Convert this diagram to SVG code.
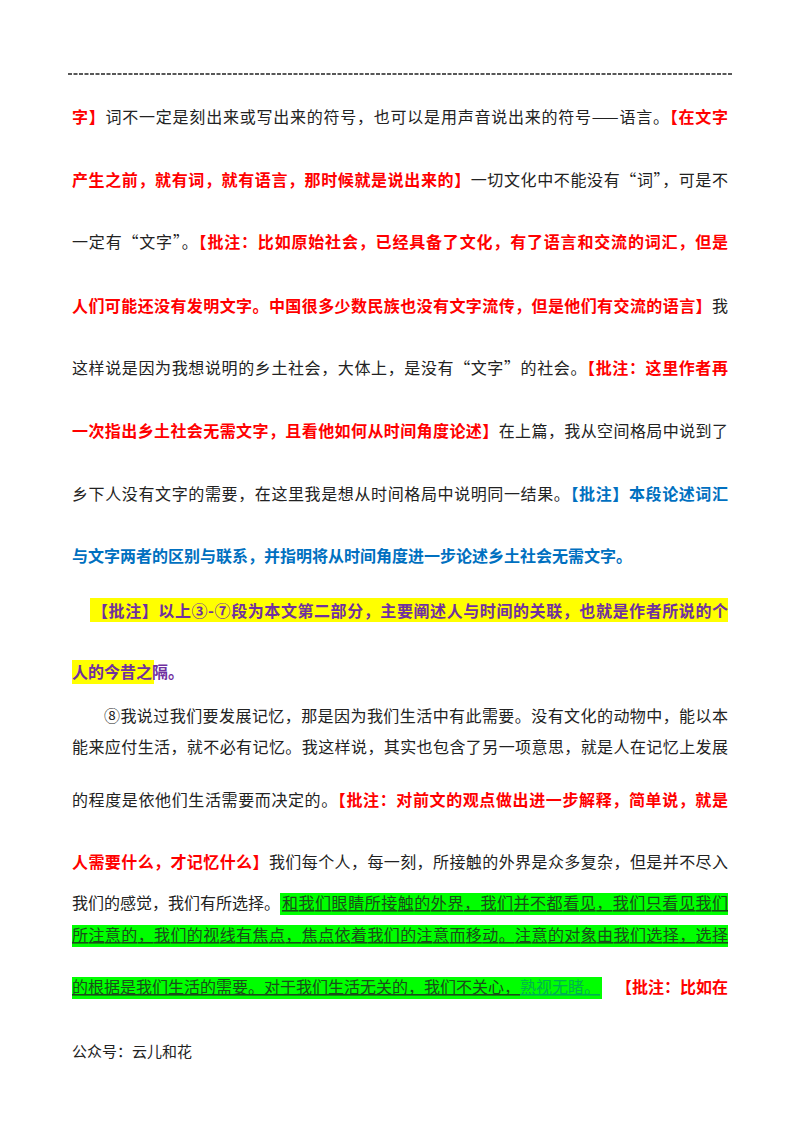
<svg xmlns="http://www.w3.org/2000/svg" width="800" height="1132" viewBox="0 0 800 1132">
<style>
text{font-family:"Noto Sans CJK SC","Noto Sans",sans-serif;font-size:16px;fill:#222}
.r{fill:#ff0000;font-weight:bold}
.b{fill:#0070c0;font-weight:bold}
.p{fill:#7030a0;font-weight:bold}
.g{fill:#1a4d1a;text-decoration:underline}
.lg{fill:#00b050;text-decoration:underline}
</style>
<rect width="800" height="1132" fill="#fff"/>
<line x1="68" y1="74" x2="733" y2="74" stroke="#222" stroke-width="1.4" stroke-dasharray="4,1.5"/>
<rect x="90" y="598" width="638" height="24" fill="#ffff00"/>
<rect x="72" y="660" width="82" height="24" fill="#ffff00"/>
<rect x="280" y="893" width="448" height="22" fill="#00ff00"/>
<rect x="72" y="925" width="656" height="22" fill="#00ff00"/>
<rect x="72" y="977" width="530" height="22" fill="#00ff00"/>
<text x="72" y="123" textLength="656" lengthAdjust="spacing"><tspan class="r">字】</tspan>词不一定是刻出来或写出来的符号，也可以是用声音说出来的符号——语言。<tspan class="r">【在文字</tspan></text>
<text x="72" y="186" textLength="656" lengthAdjust="spacing"><tspan class="r">产生之前，就有词，就有语言，那时候就是说出来的】</tspan>一切文化中不能没有“词”，可是不</text>
<text x="72" y="248" textLength="656" lengthAdjust="spacing">一定有“文字”。<tspan class="r">【批注：比如原始社会，已经具备了文化，有了语言和交流的词汇，但是</tspan></text>
<text x="72" y="312" textLength="656" lengthAdjust="spacing"><tspan class="r">人们可能还没有发明文字。中国很多少数民族也没有文字流传，但是他们有交流的语言】</tspan>我</text>
<text x="72" y="374" textLength="656" lengthAdjust="spacing">这样说是因为我想说明的乡土社会，大体上，是没有“文字”的社会。<tspan class="r">【批注：这里作者再</tspan></text>
<text x="72" y="437" textLength="656" lengthAdjust="spacing"><tspan class="r">一次指出乡土社会无需文字，且看他如何从时间角度论述】</tspan>在上篇，我从空间格局中说到了</text>
<text x="72" y="500" textLength="656" lengthAdjust="spacing">乡下人没有文字的需要，在这里我是想从时间格局中说明同一结果。<tspan class="b">【批注】本段论述词汇</tspan></text>
<text x="72" y="562" class="b">与文字两者的区别与联系，并指明将从时间角度进一步论述乡土社会无需文字。</text>
<text x="92" y="617" class="p" textLength="636" lengthAdjust="spacing">【批注】以上③-⑦段为本文第二部分，主要阐述人与时间的关联，也就是作者所说的个</text>
<text x="72" y="678" class="p">人的今昔之隔。</text>
<text x="104" y="722" textLength="624" lengthAdjust="spacing">⑧我说过我们要发展记忆，那是因为我们生活中有此需要。没有文化的动物中，能以本</text>
<text x="72" y="753" textLength="656" lengthAdjust="spacing">能来应付生活，就不必有记忆。我这样说，其实也包含了另一项意思，就是人在记忆上发展</text>
<text x="72" y="806" textLength="656" lengthAdjust="spacing">的程度是依他们生活需要而决定的。<tspan class="r">【批注：对前文的观点做出进一步解释，简单说，就是</tspan></text>
<text x="72" y="868" textLength="656" lengthAdjust="spacing"><tspan class="r">人需要什么，才记忆什么】</tspan>我们每个人，每一刻，所接触的外界是众多复杂，但是并不尽入</text>
<text x="72" y="909">我们的感觉，我们有所选择。</text>
<text x="282" y="909" textLength="446" lengthAdjust="spacing" class="g">和我们眼睛所接触的外界，我们并不都看见，我们只看见我们</text>
<text x="72" y="941" textLength="656" lengthAdjust="spacing" class="g">所注意的，我们的视线有焦点，焦点依着我们的注意而移动。注意的对象由我们选择，选择</text>
<text x="72" y="993"><tspan class="g">的根据是我们生活的需要。对于我们生活无关的，我们不关心，</tspan><tspan class="lg">熟视无睹。</tspan></text>
<text x="616" y="993" textLength="112" lengthAdjust="spacing" class="r">【批注：比如在</text>
<text x="72" y="1057" style="font-size:15px">公众号：云儿和花</text>
</svg>
